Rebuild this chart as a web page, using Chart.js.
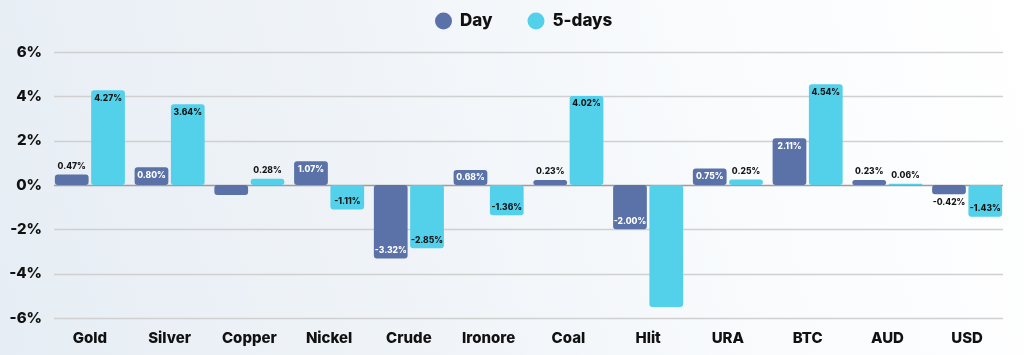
<!DOCTYPE html>
<html>
<head>
<meta charset="utf-8">
<script src="https://cdn.jsdelivr.net/npm/chart.js@4.4.0/dist/chart.umd.min.js"></script>
<style>
  html, body { margin: 0; padding: 0; }
  body {
    width: 1024px; height: 355px; overflow: hidden;
    background: linear-gradient(75deg, #e6edf4 0%, #f0f4f8 40%, #f9fbfd 70%, #ffffff 100%);
  }
  #wrap { position: relative; width: 1024px; height: 355px; }
</style>
</head>
<body>
<div id="wrap"><canvas id="c"></canvas></div>
<script>
const categories = ['Gold', 'Silver', 'Copper', 'Nickel', 'Crude', 'Ironore', 'Coal', 'Hlit', 'URA', 'BTC', 'AUD', 'USD'];
const dayValues = [0.47, 0.80, -0.45, 1.07, -3.32, 0.68, 0.23, -2.00, 0.75, 2.11, 0.23, -0.42];
const fiveDayValues = [4.27, 3.64, 0.28, -1.11, -2.85, -1.36, 4.02, -5.50, 0.25, 4.54, 0.06, -1.43];
const dayLabels = ['0.47%', '0.80%', '', '1.07%', '-3.32%', '0.68%', '0.23%', '-2.00%', '0.75%', '2.11%', '0.23%', '-0.42%'];
const fiveDayLabels = ['4.27%', '3.64%', '0.28%', '-1.11%', '-2.85%', '-1.36%', '4.02%', '', '0.25%', '4.54%', '0.06%', '-1.43%'];
const yTicks = [-6, -4, -2, 0, 2, 4, 6];

const FONT = 'Inter, "DejaVu Sans", sans-serif';
const DAY_COLOR = '#5b72a9';
const FIVE_COLOR = '#53d0ea';

// horizontal grid lines, inset slightly from the chart-area edges
const gridPlugin = {
  id: 'insetGrid',
  beforeDatasetsDraw(chart) {
    const { ctx, chartArea } = chart;
    const y = chart.scales.y;
    ctx.save();
    ctx.lineWidth = 1.5;
    yTicks.forEach(v => {
      const py = Math.round(y.getPixelForValue(v)) + 0.5;
      ctx.strokeStyle = v === 0 ? '#9d9d9d' : '#d0d0d0';
      ctx.beginPath();
      ctx.moveTo(chartArea.left + 4, py);
      ctx.lineTo(chartArea.right - 4, py);
      ctx.stroke();
    });
    ctx.restore();
  }
};

// legend drawn at the top centre
const legendPlugin = {
  id: 'topLegend',
  afterDraw(chart) {
    const ctx = chart.ctx;
    ctx.save();
    ctx.font = '800 17px ' + FONT;
    ctx.textBaseline = 'middle';
    ctx.textAlign = 'left';
    const cy = 21;
    let x = 435;
    chart.data.datasets.forEach((ds, i) => {
      ctx.fillStyle = ds.backgroundColor;
      ctx.beginPath();
      ctx.arc(x + 8.5, cy, 8.5, 0, Math.PI * 2);
      ctx.fill();
      ctx.fillStyle = '#111111';
      ctx.fillText(ds.label, x + 25, cy);
      x = x + 25 + ctx.measureText(ds.label).width + 35;
    });
    ctx.restore();
  }
};

const labelPlugin = {
  id: 'barLabels',
  afterDatasetsDraw(chart) {
    const ctx = chart.ctx;
    const labelSets = [dayLabels, fiveDayLabels];
    ctx.save();
    ctx.font = '800 8.5px ' + FONT;
    ctx.textAlign = 'center';
    ctx.textBaseline = 'middle';
    chart.data.datasets.forEach((ds, di) => {
      const meta = chart.getDatasetMeta(di);
      meta.data.forEach((bar, i) => {
        const txt = labelSets[di][i];
        if (!txt) return;
        const v = ds.data[i];
        const h = Math.abs(bar.base - bar.y);
        const inside = h > 12;
        let y;
        if (v >= 0) {
          y = inside ? bar.y + 8 : bar.y - 8;
        } else {
          y = inside ? bar.y - 8 : bar.y + 8;
        }
        ctx.fillStyle = (inside && di === 0) ? '#ffffff' : '#151515';
        ctx.fillText(txt, bar.x, y);
      });
    });
    ctx.restore();
  }
};

new Chart(document.getElementById('c'), {
  type: 'bar',
  data: {
    labels: categories,
    datasets: [
      { label: 'Day', data: dayValues, backgroundColor: DAY_COLOR, borderRadius: 3, borderSkipped: false,
        categoryPercentage: 0.91, barPercentage: 0.93 },
      { label: '5-days', data: fiveDayValues, backgroundColor: FIVE_COLOR, borderRadius: 3, borderSkipped: false,
        categoryPercentage: 0.91, barPercentage: 0.93 }
    ]
  },
  options: {
    responsive: true,
    maintainAspectRatio: false,
    animation: false,
    layout: { padding: { left: 0, right: 17, top: 52, bottom: -3 } },
    plugins: {
      tooltip: { enabled: false },
      legend: { display: false }
    },
    scales: {
      x: {
        grid: { display: false, drawTicks: false },
        border: { display: false },
        ticks: { color: '#111111', padding: 11, font: { family: FONT, size: 15, weight: '800' } }
      },
      y: {
        min: -6, max: 6,
        afterFit(scale) { scale.width = 50; },
        afterBuildTicks(scale) { scale.ticks = yTicks.map(v => ({ value: v })); },
        grid: { display: false, drawTicks: false },
        border: { display: false },
        ticks: {
          color: '#111111', padding: 8,
          font: { family: FONT, size: 15, weight: '800' },
          callback: (v) => v + '%'
        }
      }
    }
  },
  plugins: [gridPlugin, labelPlugin, legendPlugin]
});
</script>
</body>
</html>
